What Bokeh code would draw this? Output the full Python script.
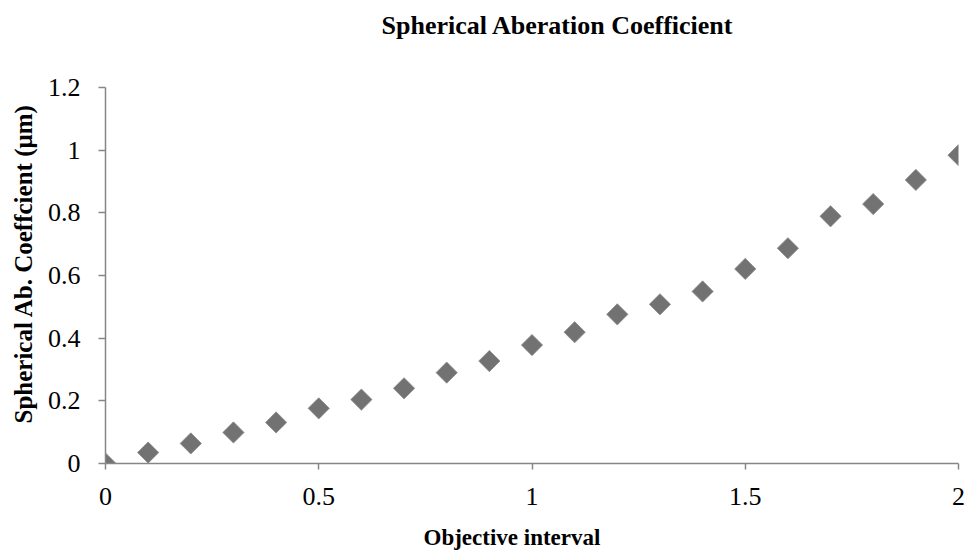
import math
from bokeh.plotting import figure
from bokeh.models import ColumnDataSource, FixedTicker, Range1d, Title
from bokeh.embed import file_html
from bokeh.resources import INLINE

# Data
objective_interval = [0.0, 0.1, 0.2, 0.3, 0.4, 0.5, 0.6, 0.7, 0.8, 0.9, 1.0,
                      1.1, 1.2, 1.3, 1.4, 1.5, 1.6, 1.7, 1.8, 1.9, 2.0]
spherical_coeff = [0.0, 0.035, 0.064, 0.099, 0.131, 0.176, 0.204, 0.240, 0.290, 0.327, 0.378,
                   0.419, 0.476, 0.508, 0.549, 0.621, 0.687, 0.789, 0.828, 0.905, 0.984]

x_ticks = [0, 0.5, 1, 1.5, 2]
x_tick_labels = ["0", "0.5", "1", "1.5", "2"]
y_ticks = [0, 0.2, 0.4, 0.6, 0.8, 1.0, 1.2]
y_tick_labels = ["0", "0.2", "0.4", "0.6", "0.8", "1", "1.2"]

title_text = "Spherical Aberation Coefficient"
x_label_text = "Objective interval"
y_label_text = "Spherical Ab. Coeffcient (μm)"

SERIF = "Liberation Serif"
AXIS_GRAY = "#868686"

src = ColumnDataSource(data=dict(x=objective_interval, y=spherical_coeff))

p = figure(width=967, height=553, output_backend="svg", toolbar_location=None,
           x_range=Range1d(0, 2), y_range=Range1d(0, 1.2),
           min_border_left=105, min_border_right=9, min_border_top=87, min_border_bottom=90)

p.scatter("x", "y", source=src, marker="square", size=15, angle=math.pi / 4,
          fill_color="#727272", line_color="#8a8a8a", line_width=0.8)

p.outline_line_color = None
p.xgrid.visible = False
p.ygrid.visible = False
p.background_fill_color = "white"
p.border_fill_color = "white"

p.xaxis.ticker = FixedTicker(ticks=x_ticks)
p.xaxis.major_label_overrides = {t: l for t, l in zip(x_ticks, x_tick_labels)}
p.yaxis.ticker = FixedTicker(ticks=y_ticks)
p.yaxis.major_label_overrides = {t: l for t, l in zip(y_ticks, y_tick_labels)}

for ax in (p.xaxis, p.yaxis):
    ax.axis_line_color = AXIS_GRAY
    ax.axis_line_width = 1.5
    ax.major_tick_line_color = AXIS_GRAY
    ax.major_tick_line_width = 1.5
    ax.major_tick_in = 0
    ax.minor_tick_line_color = None
    ax.major_label_text_font = SERIF
    ax.major_label_text_font_size = "26px"
    ax.major_label_text_color = "#000000"

p.xaxis.major_tick_out = 6
p.yaxis.major_tick_out = 7
p.xaxis.major_label_standoff = 18
p.yaxis.major_label_standoff = 18

# Chart title (above); padding order is (left, right, top, bottom)
p.title.text = title_text
p.title.align = "left"
p.title.vertical_align = "top"
p.title.offset = 276
p.title.standoff = 10
p.title.padding = (0, 0, 0, 41)
p.title.text_font = SERIF
p.title.text_font_size = "26px"
p.title.text_font_style = "bold"
p.title.text_color = "#000000"

# Axis titles as side titles so they can be offset like the reference
xlab = Title(text=x_label_text, align="left", vertical_align="top", offset=318, standoff=0,
             padding=(0, 0, 17, 0),
             text_font=SERIF, text_font_size="23px", text_font_style="bold",
             text_color="#000000")
ylab = Title(text=y_label_text, align="left", offset=40, standoff=15,
             text_font=SERIF, text_font_size="25px", text_font_style="bold",
             text_color="#000000")
p.add_layout(xlab, "below")
p.add_layout(ylab, "left")

open("out.html", "w").write(file_html(p, INLINE))
